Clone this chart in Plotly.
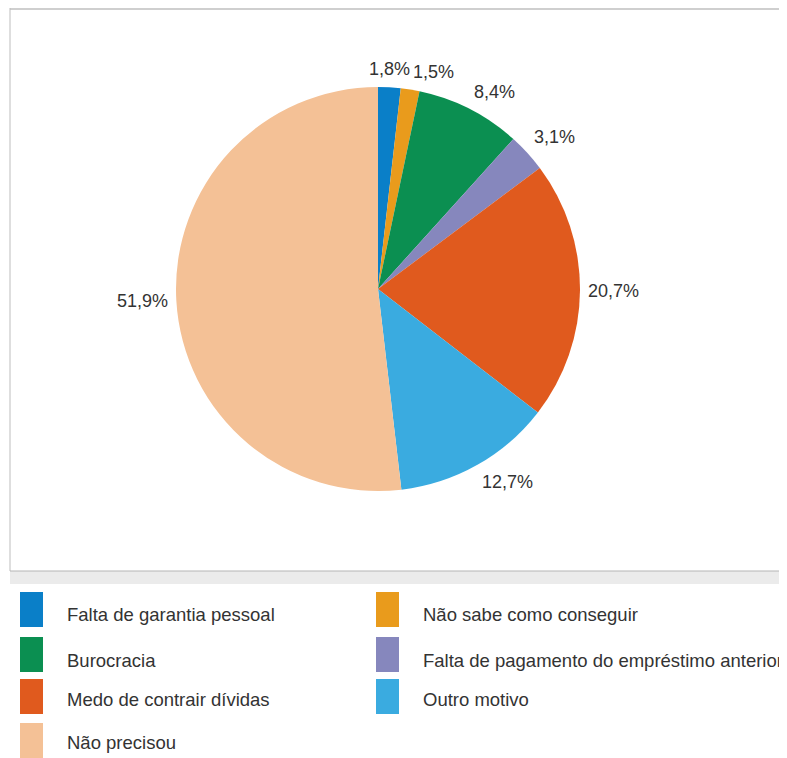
import math
import plotly.graph_objects as go

# The page body adds an 8px margin; the figure is sized to the visible area.
OFF = 8
W, H = 787 - OFF, 758 - OFF

categories = [
    "Falta de garantia pessoal",
    "Não sabe como conseguir",
    "Burocracia",
    "Falta de pagamento do empréstimo anterior",
    "Medo de contrair dívidas",
    "Outro motivo",
    "Não precisou",
]
values = [1.8, 1.5, 8.4, 3.1, 20.7, 12.7, 51.9]
colors = ["#0a7fc8", "#e99b1c", "#0b8f51", "#8687bd", "#e05a1e", "#3aabe0", "#f4c196"]
value_labels = [f"{v:.1f}%".replace(".", ",") for v in values]


def px(x):
    return (x - OFF) / W


def py(y):
    return 1 - (y - OFF) / H


# pie geometry (reference pixels)
CX, CY, R = 378, 289, 202

fig = go.Figure()
fig.add_trace(go.Pie(
    labels=categories,
    values=values,
    marker=dict(colors=colors, line=dict(width=0)),
    sort=False,
    direction="clockwise",
    rotation=0,
    textinfo="none",
    domain=dict(x=[px(CX - R), px(CX + R)], y=[py(CY + R), py(CY - R)]),
    showlegend=False,
    hoverinfo="label+percent",
))

annotations = []
# value labels placed just outside each slice at its mid-angle
total = sum(values)
cum = 0.0
for v, lab in zip(values, value_labels):
    mid = (cum + v / 2) / total * 2 * math.pi
    cum += v
    s, c = math.sin(mid), math.cos(mid)
    lx = CX + 1.03 * R * s
    ly = CY - 1.03 * R * c
    xa = "left" if s > 0.1 else ("right" if s < -0.1 else "center")
    ya = "bottom" if c > 0.3 else ("top" if c < -0.3 else "middle")
    annotations.append(dict(text=lab, xref="paper", yref="paper", x=px(lx), y=py(ly),
                            xanchor=xa, yanchor=ya, showarrow=False,
                            font=dict(family="Liberation Sans, Arial, sans-serif", size=18,
                                      color="#333333")))

shapes = [
    # chart frame
    dict(type="line", xref="paper", yref="paper", x0=px(10), x1=1.02, y0=py(9), y1=py(9),
         line=dict(color="#cfcfcf", width=2)),
    dict(type="line", xref="paper", yref="paper", x0=px(10), x1=px(10), y0=py(8), y1=py(571),
         line=dict(color="#bdbdbd", width=1)),
    dict(type="rect", xref="paper", yref="paper", x0=px(10), x1=1.02, y0=py(584), y1=py(571),
         fillcolor="#ebebeb", line=dict(width=0)),
    dict(type="line", xref="paper", yref="paper", x0=px(10), x1=1.02, y0=py(571), y1=py(571),
         line=dict(color="#b5b5b5", width=1)),
]

legend_rows = [(592, 627, 614), (637, 672, 660), (679, 714, 699), (723, 758, 742)]
for i, (cat, col) in enumerate(zip(categories, colors)):
    row, colidx = divmod(i, 2)
    top, bot, ty = legend_rows[row]
    sx = 20 if colidx == 0 else 376
    shapes.append(dict(type="rect", xref="paper", yref="paper",
                       x0=px(sx), x1=px(sx + 23), y0=py(bot), y1=py(top),
                       fillcolor=col, line=dict(width=0)))
    annotations.append(dict(text=cat, xref="paper", yref="paper",
                            x=px(sx + 45), y=py(ty), xanchor="left", yanchor="middle",
                            showarrow=False,
                            font=dict(family="Liberation Sans Narrow, Arial Narrow, Liberation Sans, sans-serif",
                                      size=18.5, color="#333333")))

fig.update_layout(
    width=W, height=H,
    margin=dict(l=0, r=0, t=0, b=0),
    paper_bgcolor="white",
    plot_bgcolor="white",
    shapes=shapes,
    annotations=annotations,
)

fig.write_html("out.html")
